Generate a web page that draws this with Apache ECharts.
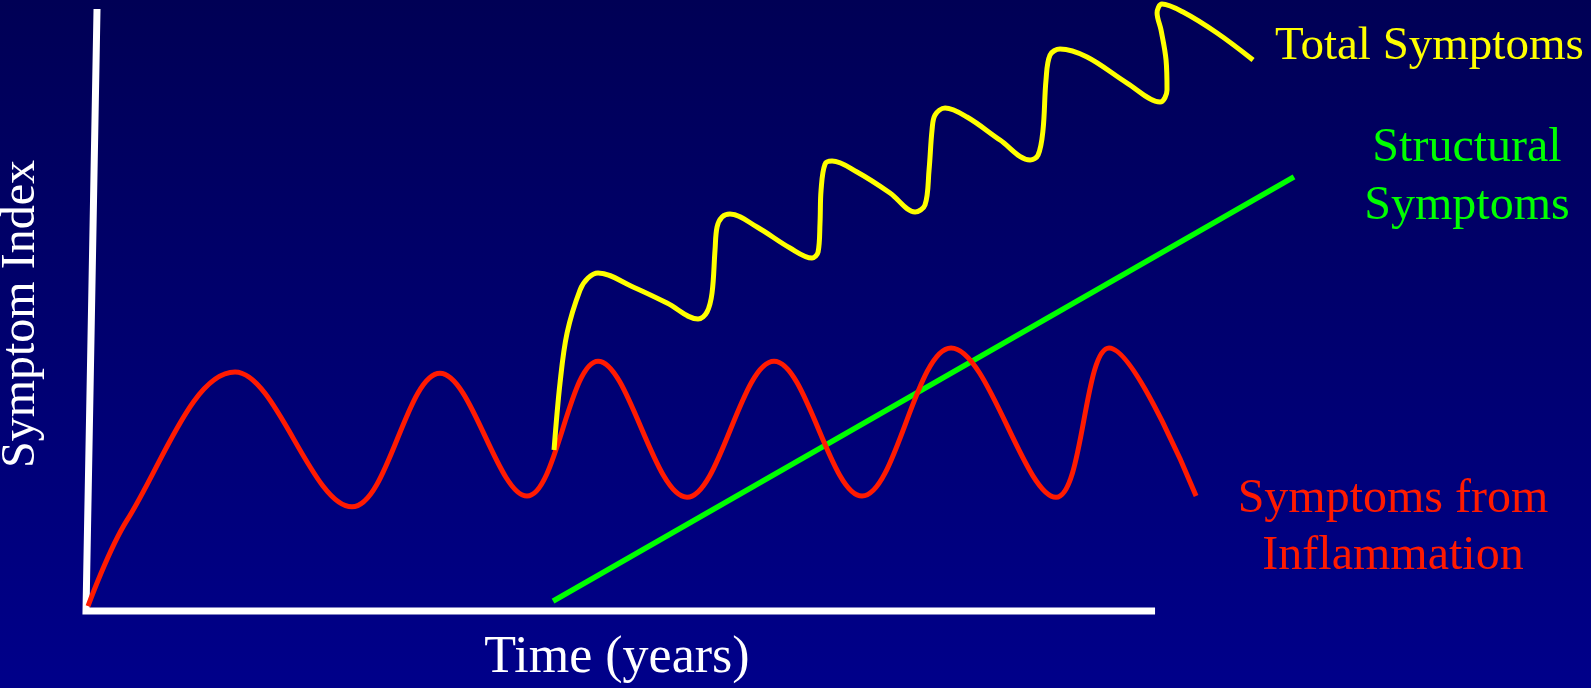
<!DOCTYPE html>
<html>
<head>
<meta charset="utf-8">
<script src="https://cdn.jsdelivr.net/npm/echarts@6/dist/echarts.min.js"></script>
<style>
  html, body { margin: 0; padding: 0; background: #000070; }
  #chart { width: 1591px; height: 688px; }
</style>
</head>
<body>
<div id="chart"></div>
<script>
// ---- Data (time in years, symptom index 0..100) ----
const axisFrame = [[0.103, 100], [0, 0], [10, 0]];

// start, early rise, then alternating peaks and troughs, end
const inflammation = [
  [0.019, 0.8], [0.384, 15.1], [1.394, 39.7], [2.488, 17.3],
  [3.311, 39.5], [4.125, 19.1], [4.790, 41.5], [5.622, 18.9],
  [6.436, 41.5], [7.259, 19.1], [8.092, 43.7], [9.074, 18.9],
  [9.570, 43.7], [10.384, 19.1]
];

const totalSymptoms = [
  [4.378, 26.74], [4.434, 37.87], [4.500, 46.18], [4.621, 53.32], [4.696, 55.32],
  [4.790, 56.15], [5.117, 53.82], [5.435, 51.16],
  [5.725, 48.50], [5.809, 49.67], [5.856, 52.82], [5.884, 59.97], [5.903, 63.79],
  [5.950, 65.45], [6.024, 65.95], [6.277, 63.79], [6.586, 60.30],
  [6.791, 58.64], [6.848, 59.63], [6.866, 64.45], [6.876, 69.93],
  [6.913, 74.25], [6.979, 74.75], [7.212, 72.92], [7.521, 69.44],
  [7.755, 66.28], [7.848, 67.44], [7.886, 73.26], [7.914, 79.90],
  [7.942, 82.39], [8.036, 83.55], [8.241, 82.06], [8.550, 78.24],
  [8.831, 74.92], [8.906, 75.75], [8.952, 79.90], [8.980, 88.21],
  [9.018, 92.36], [9.111, 93.36], [9.364, 92.03], [9.738, 87.71],
  [10.047, 84.55], [10.112, 86.54], [10.103, 91.53], [10.056, 96.51],
  [10.019, 99.34], [10.065, 100.83], [10.262, 99.50], [10.580, 96.01],
  [10.917, 91.53]
];

const structural = [[4.369, 1.66], [11.300, 72.1]];

const labels = {
  xName: 'Time (years)',
  yName: 'Symptom Index',
  total: 'Total Symptoms',
  structural1: 'Structural',
  structural2: 'Symptoms',
  inflam1: 'Symptoms from',
  inflam2: 'Inflammation'
};

// ---- Chart ----
const chart = echarts.init(document.getElementById('chart'), null, { renderer: 'canvas' });
const serif = "'Liberation Serif', 'Times New Roman', serif";

const option = {
  animation: false,
  backgroundColor: new echarts.graphic.LinearGradient(0, 0, 0, 1, [
    { offset: 0, color: '#000055' },
    { offset: 1, color: '#00008A' }
  ]),
  grid: { left: 0, right: 0, top: 0, bottom: 0 },
  xAxis: { type: 'value', min: -0.8045, max: 14.078, show: false },
  yAxis: { type: 'value', min: -12.79, max: 101.5, show: false },
  series: [
    {
      name: 'axes', type: 'line', data: axisFrame, symbol: 'none', silent: true,
      lineStyle: { color: '#ffffff', width: 7, cap: 'butt', join: 'miter' }, z: 1
    },
    {
      name: 'Structural Symptoms', type: 'line', data: structural, symbol: 'none',
      lineStyle: { color: '#00ff00', width: 5.5 }, z: 2
    },
    {
      name: 'Symptoms from Inflammation', type: 'line', data: inflammation, symbol: 'none',
      smooth: 0.365, lineStyle: { color: '#ff1a00', width: 5 }, z: 3
    },
    {
      name: 'Total Symptoms', type: 'line', data: totalSymptoms, symbol: 'none',
      smooth: 0.35, lineStyle: { color: '#ffff00', width: 5 }, z: 4
    }
  ],
  graphic: [
    { type: 'text', x: 617, y: 658, style: { text: labels.xName, fill: '#ffffff', font: '52px ' + serif, align: 'center', verticalAlign: 'middle' } },
    { type: 'text', x: 21, y: 314, rotation: Math.PI / 2, style: { text: labels.yName, fill: '#ffffff', font: '48px ' + serif, align: 'center', verticalAlign: 'middle' } },
    { type: 'text', x: 1275, y: 47, style: { text: labels.total, fill: '#ffff00', font: '47px ' + serif, align: 'left', verticalAlign: 'middle' } },
    { type: 'text', x: 1467, y: 148, style: { text: labels.structural1, fill: '#00ff00', font: '48px ' + serif, align: 'center', verticalAlign: 'middle' } },
    { type: 'text', x: 1467, y: 206, style: { text: labels.structural2, fill: '#00ff00', font: '48px ' + serif, align: 'center', verticalAlign: 'middle' } },
    { type: 'text', x: 1393, y: 499, style: { text: labels.inflam1, fill: '#ff1a00', font: '48px ' + serif, align: 'center', verticalAlign: 'middle' } },
    { type: 'text', x: 1393, y: 556, style: { text: labels.inflam2, fill: '#ff1a00', font: '48px ' + serif, align: 'center', verticalAlign: 'middle' } }
  ]
};
chart.setOption(option);
</script>
</body>
</html>
